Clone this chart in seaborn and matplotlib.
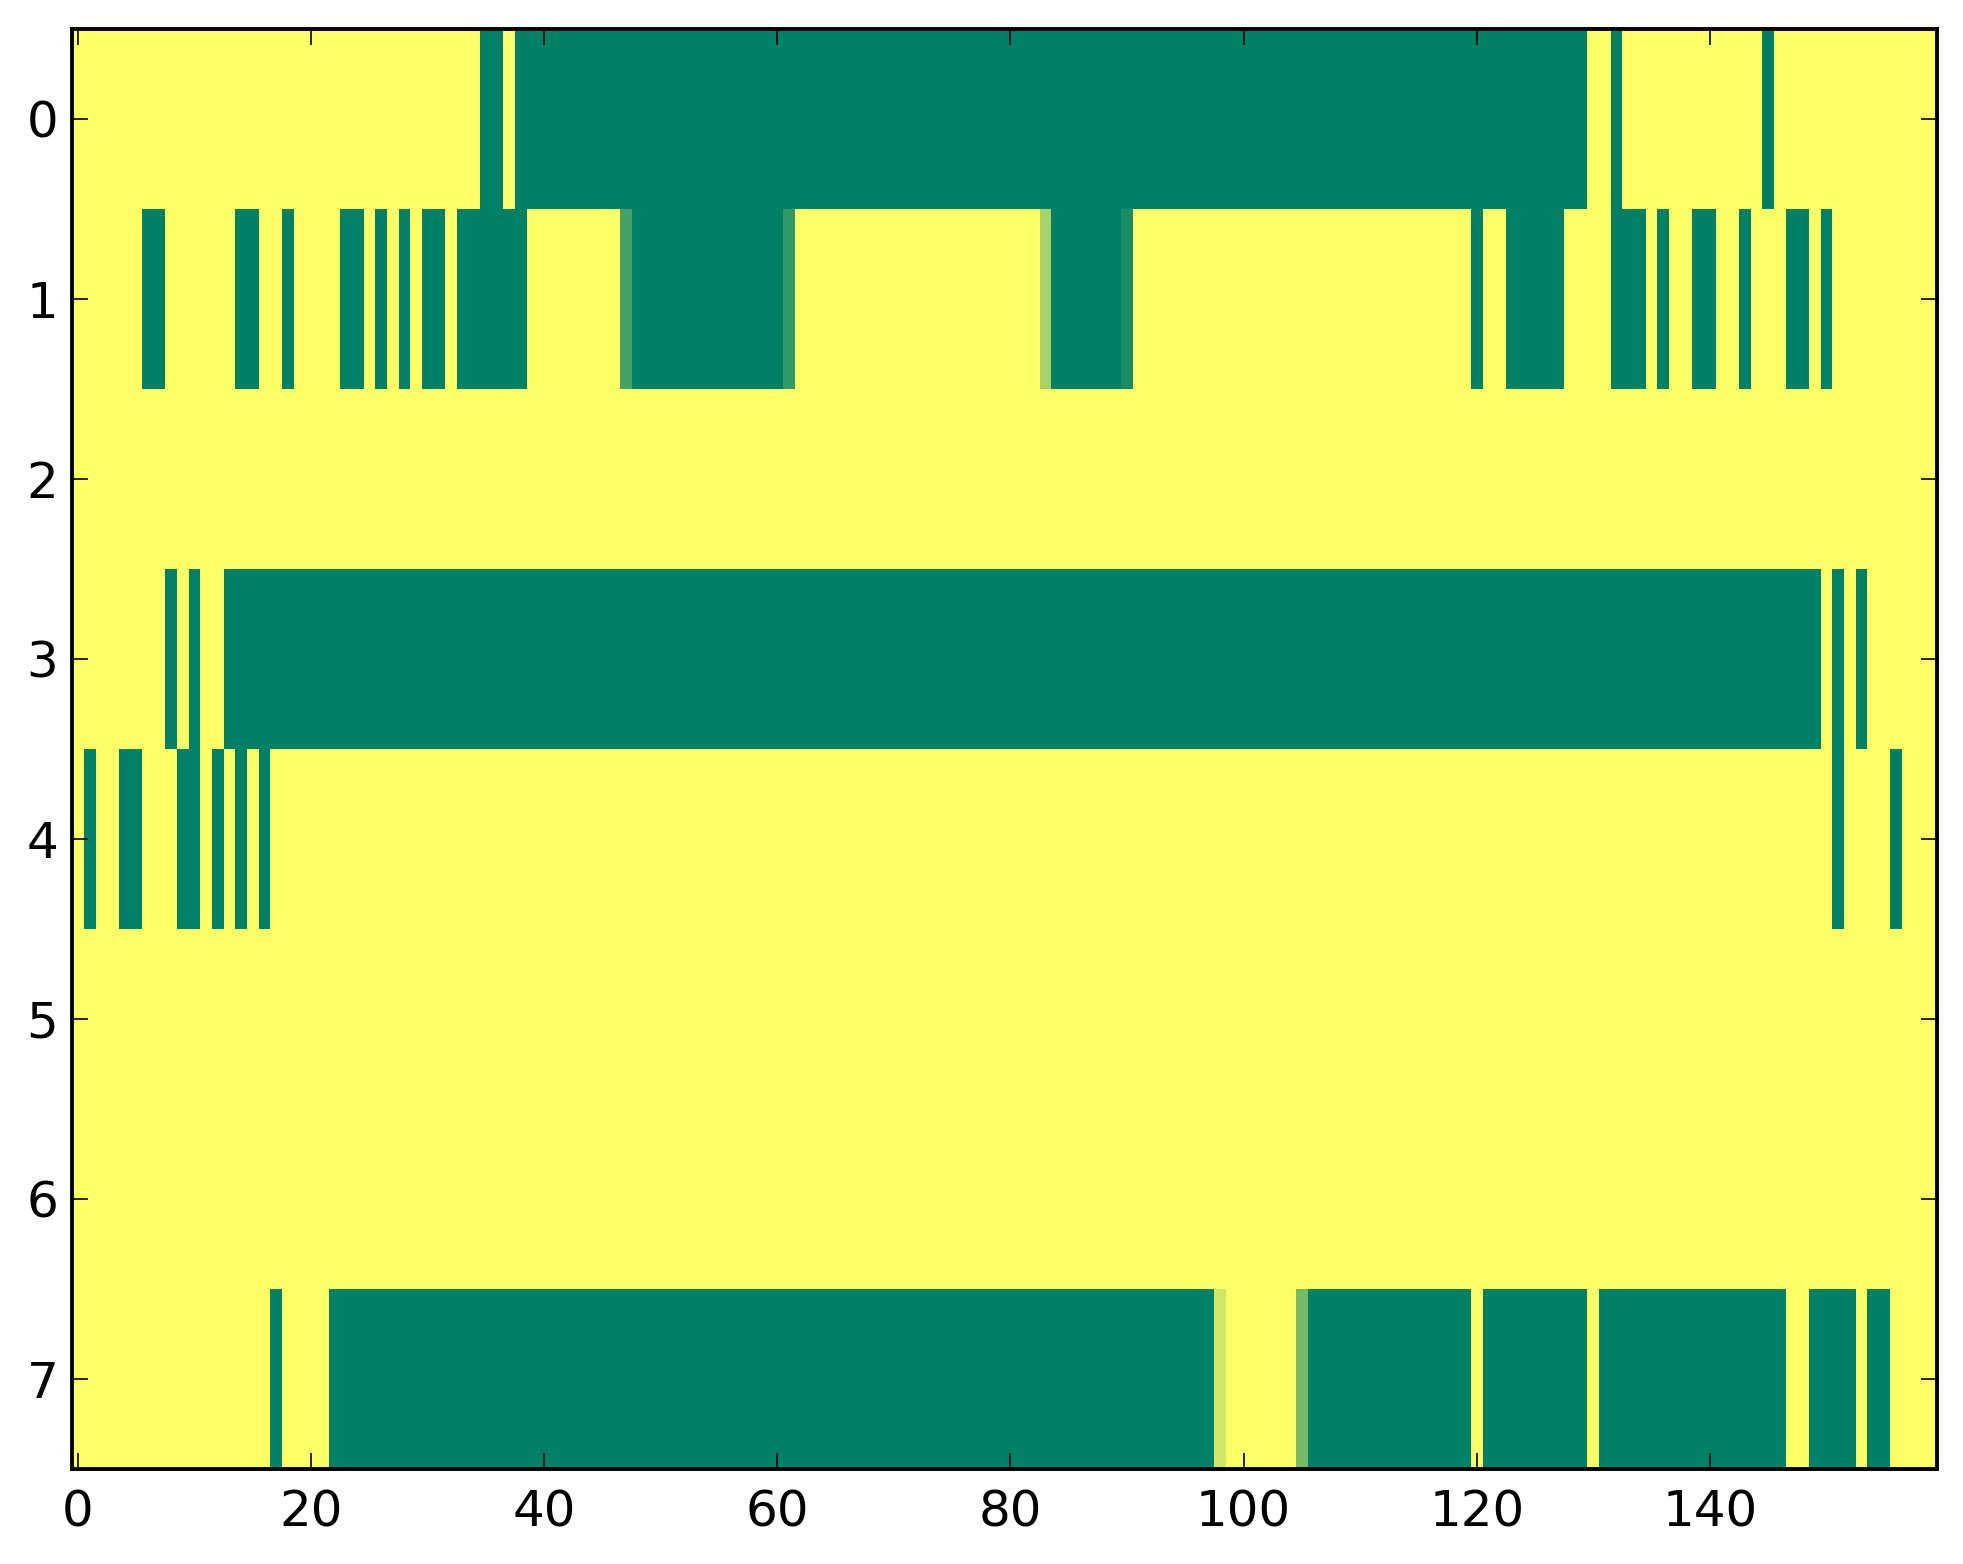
import numpy as np
import pandas as pd
import matplotlib
matplotlib.use("Agg")
import matplotlib.pyplot as plt
import seaborn as sns

n_cols = 160
row_labels = [0, 1, 2, 3, 4, 5, 6, 7]
x_tick_values = [0, 20, 40, 60, 80, 100, 120, 140]

# Columns (inclusive ranges) whose value is 0 (green); all others are 1 (yellow)
row0_zero = [(35, 36), (38, 129), (132, 132), (145, 145)]
row1_zero = [(6, 7), (14, 15), (18, 18), (23, 24), (26, 26), (28, 28), (30, 31),
             (33, 38), (48, 60), (84, 89), (120, 120), (123, 127), (132, 134),
             (136, 136), (139, 140), (143, 143), (147, 148), (150, 150)]
row2_zero = []
row3_zero = [(8, 8), (10, 10), (13, 149), (151, 151), (153, 153)]
row4_zero = [(1, 1), (4, 5), (9, 10), (12, 12), (14, 14), (16, 16),
             (151, 151), (156, 156)]
row5_zero = []
row6_zero = []
row7_zero = [(17, 17), (22, 97), (106, 119), (121, 129), (131, 146),
             (149, 152), (154, 155)]

# Cells with fractional values: (row, col, value)
partial_cells = [(1, 47, 0.27), (1, 61, 0.20), (1, 83, 0.65), (1, 90, 0.10),
                 (7, 98, 0.82), (7, 105, 0.46)]

rows_zero = [row0_zero, row1_zero, row2_zero, row3_zero,
             row4_zero, row5_zero, row6_zero, row7_zero]

data = np.ones((len(row_labels), n_cols))
for r, spans in enumerate(rows_zero):
    for a, b in spans:
        data[r, a:b + 1] = 0.0
for r, c, v in partial_cells:
    data[r, c] = v

df = pd.DataFrame(data, index=row_labels, columns=range(n_cols))

sns.set_theme(style="white")
plt.rcParams['font.family'] = ['DejaVu Sans']
plt.rcParams['axes.axisbelow'] = False

fig = plt.figure(figsize=(9.815, 7.82), dpi=200)
ax = fig.add_axes([0.0368, 0.0609, 0.9500, 0.9208])

sns.heatmap(df, cmap="summer", vmin=0, vmax=1, cbar=False, ax=ax,
            xticklabels=False, yticklabels=False)

ax.set_axisbelow(False)
ax.set_xticks(np.array(x_tick_values) + 0.5)
ax.set_xticklabels([str(v) for v in x_tick_values], rotation=0)
ax.set_yticks(np.array(row_labels) + 0.5)
ax.set_yticklabels([str(v) for v in row_labels], rotation=0)
ax.set_xlabel("")
ax.set_ylabel("")
ax.set_xlim(0, n_cols)
ax.set_ylim(len(row_labels), 0)

for s in ax.spines.values():
    s.set_visible(True)
    s.set_color("black")
    s.set_linewidth(1.4)

ax.tick_params(axis="both", which="major", direction="in", length=5.8,
               width=0.6, color="black", labelsize=18, labelcolor="black",
               top=True, right=True, bottom=True, left=True,
               labeltop=False, labelright=False)
ax.tick_params(axis="x", pad=7)
ax.tick_params(axis="y", pad=5)

fig.savefig("out.png", dpi=200)
